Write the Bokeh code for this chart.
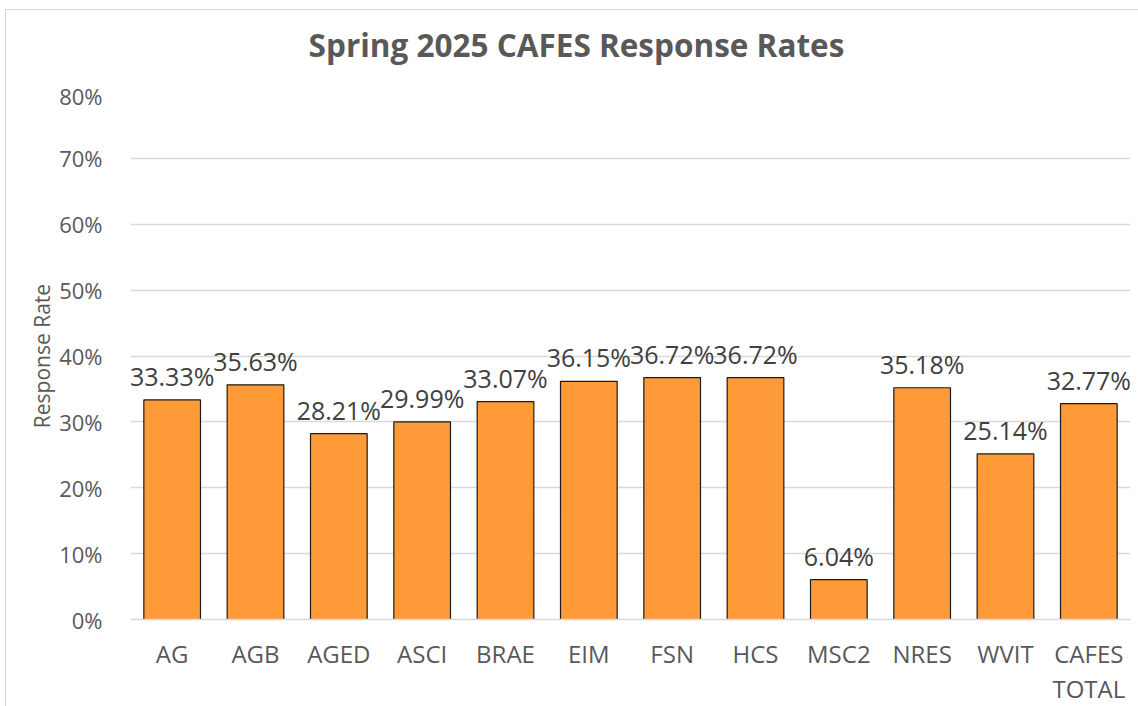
from bokeh.plotting import figure
from bokeh.models import ColumnDataSource, NumeralTickFormatter, FixedTicker, Div
from bokeh.layouts import column
from bokeh.core.properties import value
from bokeh.embed import file_html
from bokeh.resources import INLINE

title_text = "Spring 2025 CAFES Response Rates"
categories = ["AG", "AGB", "AGED", "ASCI", "BRAE", "EIM", "FSN", "HCS", "MSC2", "NRES", "WVIT", "CAFES TOTAL"]
tick_labels = ["AG", "AGB", "AGED", "ASCI", "BRAE", "EIM", "FSN", "HCS", "MSC2", "NRES", "WVIT", "CAFES\nTOTAL"]
rates = [0.3333, 0.3563, 0.2821, 0.2999, 0.3307, 0.3615, 0.3672, 0.3672, 0.0604, 0.3518, 0.2514, 0.3277]
y_ticks = [0, 0.1, 0.2, 0.3, 0.4, 0.5, 0.6, 0.7, 0.8]

FONT = "Open Sans"
GRAY = "#595959"

pos = list(range(len(categories)))
src = ColumnDataSource(dict(
    x=pos,
    cat=categories,
    rate=rates,
    label=[f"{r*100:.2f}%" for r in rates],
))

p = figure(
    x_range=(-0.5, len(categories) - 0.5),
    y_range=(0, max(y_ticks)),
    frame_width=1000, frame_height=527,
    output_backend="svg", toolbar_location=None,
    min_border_left=124, min_border_right=7, min_border_top=12, min_border_bottom=86,
)

p.vbar(x="x", top="rate", width=0.68, source=src,
       fill_color="#FF9A38", line_color="#1a1a1a", line_width=1.2)

p.text(x="x", y="rate", text="label", source=src,
       text_align="center", text_baseline="bottom", y_offset=-7,
       text_font=value(FONT), text_font_size="25px", text_color="#404040")

p.outline_line_color = None
p.xgrid.grid_line_color = None
p.ygrid.grid_line_color = "#D9D9D9"
p.ygrid.grid_line_width = 1.3
p.ygrid.ticker = FixedTicker(ticks=y_ticks)

p.yaxis.ticker = FixedTicker(ticks=y_ticks)
p.yaxis.formatter = NumeralTickFormatter(format="0%")
p.yaxis.axis_line_color = None
p.yaxis.major_tick_line_color = None
p.yaxis.minor_tick_line_color = None
p.yaxis.major_label_text_font = FONT
p.yaxis.major_label_text_font_size = "22px"
p.yaxis.major_label_text_color = GRAY
p.yaxis.major_label_standoff = 22
p.yaxis.axis_label = "Response Rate"
p.yaxis.axis_label_text_font = FONT
p.yaxis.axis_label_text_font_size = "21px"
p.yaxis.axis_label_text_font_style = "normal"
p.yaxis.axis_label_text_color = GRAY
p.yaxis.axis_label_standoff = 0

p.xaxis.ticker = FixedTicker(ticks=pos)
p.xaxis.major_label_overrides = {i: t for i, t in zip(pos, tick_labels)}
p.xaxis.axis_line_color = "#D9D9D9"
p.xaxis.axis_line_width = 1.3
p.xaxis.major_tick_line_color = None
p.xaxis.minor_tick_line_color = None
p.xaxis.major_label_text_font = FONT
p.xaxis.major_label_text_font_size = "24px"
p.xaxis.major_label_text_color = GRAY
p.xaxis.major_label_text_line_height = 1.07
p.xaxis.major_label_standoff = 11

title = Div(
    text=title_text, width=1131, height=60,
    styles={"font-family": FONT, "font-size": "31.5px", "font-weight": "bold",
            "color": GRAY, "text-align": "center", "line-height": "60px",
            "box-sizing": "border-box"},
)

layout = column(title, p, spacing=0,
                styles={"margin-left": "5px", "margin-top": "9px",
                        "border-left": "1px solid #D9D9D9", "border-top": "1px solid #D9D9D9"})

open("out.html", "w").write(file_html(layout, INLINE))
